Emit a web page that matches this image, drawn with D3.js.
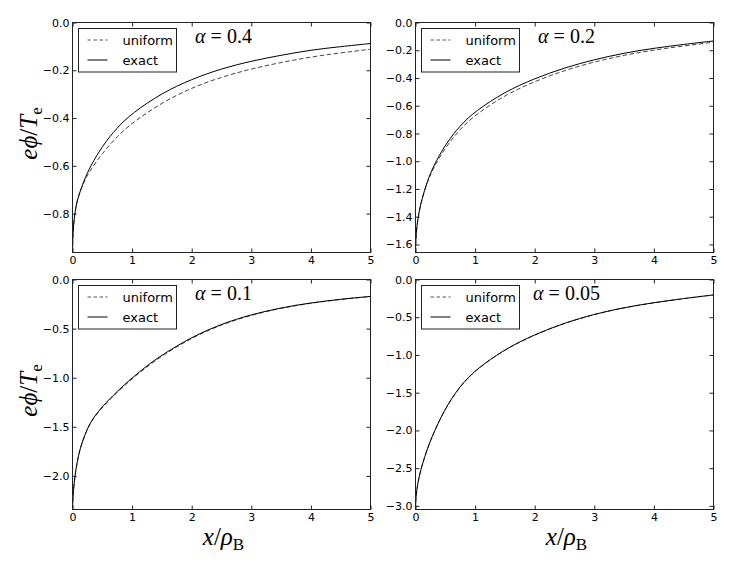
<!DOCTYPE html>
<html><head><meta charset="utf-8">
<script src="https://cdn.jsdelivr.net/npm/d3@7"></script>
<style>body{margin:0;background:#fff} svg{display:block}</style>
</head><body><svg id="c" width="747" height="569"></svg>
<script>
// ---------- data ----------
const alphas = ["0.4", "0.2", "0.1", "0.05"];
const xTicks = [0, 1, 2, 3, 4, 5];
const yTicks04 = [0, -0.2, -0.4, -0.6, -0.8];
const yTicks02 = [0, -0.2, -0.4, -0.6, -0.8, -1.0, -1.2, -1.4, -1.6];
const yTicks01 = [0, -0.5, -1.0, -1.5, -2.0];
const yTicks005 = [0, -0.5, -1.0, -1.5, -2.0, -2.5, -3.0];

// alpha = 0.4
const x04 = [0, 0.005, 0.02, 0.05, 0.1, 0.2, 0.3, 0.5, 0.75, 1, 1.5, 2, 2.5, 3, 3.5, 4, 4.5, 5];
const y04Exact = [-0.963, -0.896, -0.840, -0.777, -0.725, -0.657, -0.602, -0.517, -0.439, -0.380, -0.295, -0.237, -0.193, -0.161, -0.137, -0.115, -0.101, -0.088];
const y04Unif  = [-0.963, -0.896, -0.840, -0.777, -0.725, -0.662, -0.617, -0.548, -0.476, -0.420, -0.335, -0.273, -0.228, -0.194, -0.167, -0.144, -0.127, -0.112];

// alpha = 0.2
const x02 = [0, 0.005, 0.02, 0.05, 0.1, 0.2, 0.3, 0.5, 0.75, 1, 1.5, 2, 2.5, 3, 3.5, 4, 4.5, 5];
const y02Exact = [-1.658, -1.565, -1.480, -1.387, -1.282, -1.141, -1.036, -0.879, -0.741, -0.640, -0.499, -0.403, -0.326, -0.267, -0.220, -0.185, -0.158, -0.133];
const y02Unif  = [-1.658, -1.565, -1.480, -1.387, -1.282, -1.147, -1.048, -0.901, -0.767, -0.666, -0.523, -0.424, -0.345, -0.283, -0.235, -0.198, -0.169, -0.142];

// alpha = 0.1
const x01 = [0, 0.005, 0.02, 0.05, 0.1, 0.15, 0.25, 0.35, 0.5, 0.75, 1, 1.25, 1.5, 2, 2.5, 3, 3.5, 4, 4.5, 5];
const y01Exact = [-2.342, -2.250, -2.114, -1.956, -1.790, -1.676, -1.512, -1.408, -1.292, -1.138, -1.0, -0.878, -0.768, -0.585, -0.452, -0.356, -0.287, -0.237, -0.200, -0.172];
const y01Unif  = [-2.342, -2.250, -2.114, -1.956, -1.790, -1.678, -1.517, -1.414, -1.300, -1.147, -1.010, -0.888, -0.777, -0.593, -0.458, -0.361, -0.291, -0.240, -0.202, -0.174];

// alpha = 0.05
const x005 = [0, 0.005, 0.02, 0.05, 0.1, 0.2, 0.3, 0.5, 0.75, 1, 1.5, 2, 2.5, 3, 3.5, 4, 4.5, 5];
const y005Exact = [-3.048, -2.912, -2.791, -2.653, -2.483, -2.238, -2.037, -1.701, -1.408, -1.200, -0.921, -0.728, -0.575, -0.458, -0.371, -0.306, -0.252, -0.204];
const y005Unif  = [-3.048, -2.912, -2.791, -2.653, -2.484, -2.240, -2.040, -1.705, -1.412, -1.204, -0.925, -0.731, -0.578, -0.460, -0.373, -0.307, -0.253, -0.205];

const legendLabels = ["uniform", "exact"];

// ---------- layout ----------
const W = 298, H = 230;
const panels = [
  {alpha: alphas[0], left: 72.5,  top: 22.5,  xs: x04,  ye: y04Exact,  yu: y04Unif,  yTicks: yTicks04,  ylab: true,  xlab: false},
  {alpha: alphas[1], left: 415.5, top: 22.5,  xs: x02,  ye: y02Exact,  yu: y02Unif,  yTicks: yTicks02,  ylab: false, xlab: false},
  {alpha: alphas[2], left: 72.5,  top: 279.5, xs: x01,  ye: y01Exact,  yu: y01Unif,  yTicks: yTicks01,  ylab: true,  xlab: true},
  {alpha: alphas[3], left: 415.5, top: 279.5, xs: x005, ye: y005Exact, yu: y005Unif, yTicks: yTicks005, ylab: false, xlab: true}
];

const svg = d3.select("#c");
const tickFont = "DejaVu Sans";
const axisCol = "#222";

panels.forEach(p => {
  const g = svg.append("g").attr("transform", `translate(${p.left},${p.top})`);
  const x = d3.scaleLinear().domain([0, 5]).range([0, W]);
  const ymin = d3.min(p.ye.concat(p.yu));
  const y = d3.scaleLinear().domain([ymin, 0]).range([H, 0]);

  const fmtY = d3.format(".1f");
  const styleAxis = sel => {
    sel.select(".domain").remove();
    sel.selectAll(".tick line").attr("stroke", axisCol);
    sel.selectAll(".tick text").attr("font-family", tickFont).attr("font-size", 11).attr("fill", "#000");
  };
  g.append("g").attr("transform", `translate(0,${H})`)
    .call(d3.axisBottom(x).tickValues(xTicks).tickSize(-4).tickPadding(4).tickFormat(d3.format("d")))
    .call(styleAxis);
  g.append("g")
    .call(d3.axisTop(x).tickValues(xTicks).tickSize(-4).tickFormat(""))
    .call(styleAxis);
  g.append("g")
    .call(d3.axisLeft(y).tickValues(p.yTicks).tickSize(-4).tickPadding(3).tickFormat(v => fmtY(v === 0 ? 0 : v)))
    .call(styleAxis);
  g.append("g").attr("transform", `translate(${W},0)`)
    .call(d3.axisRight(y).tickValues(p.yTicks).tickSize(-4).tickFormat(""))
    .call(styleAxis);

  const line = d3.line().x(d => x(d[0])).y(d => y(d[1])).curve(d3.curveBasis);
  const uni = p.xs.map((v, i) => [v, p.yu[i]]);
  const ex = p.xs.map((v, i) => [v, p.ye[i]]);
  g.append("path").attr("d", line(uni)).attr("fill", "none").attr("stroke", "#444")
    .attr("stroke-width", 1).attr("stroke-dasharray", "4.5,2.5");
  g.append("path").attr("d", line(ex)).attr("fill", "none").attr("stroke", "#000").attr("stroke-width", 1);

  g.append("rect").attr("x", 0).attr("y", 0).attr("width", W).attr("height", H)
    .attr("fill", "none").attr("stroke", axisCol).attr("stroke-width", 1);

  // legend
  const lg = g.append("g").attr("transform", "translate(6,6)");
  lg.append("rect").attr("width", 98).attr("height", 43.5).attr("fill", "#fff")
    .attr("stroke", axisCol).attr("stroke-width", 1);
  legendLabels.forEach((lab, i) => {
    const ry = 11.5 + i * 20;
    lg.append("line").attr("x1", 9).attr("x2", 29).attr("y1", ry).attr("y2", ry)
      .attr("stroke", i === 0 ? "#555" : "#000").attr("stroke-width", 1)
      .attr("stroke-dasharray", i === 0 ? "3.5,2.5" : null);
    lg.append("text").attr("x", 44).attr("y", ry + 4.5).text(lab)
      .attr("font-family", tickFont).attr("font-size", 13).attr("fill", "#000");
  });

  // alpha annotation
  const at = g.append("text").attr("x", 151).attr("y", 20.5).attr("text-anchor", "middle")
    .attr("font-family", "Liberation Serif").attr("font-size", 20).attr("fill", "#000");
  at.append("tspan").attr("font-style", "italic").text("α");
  at.append("tspan").text(" = " + p.alpha);

  if (p.ylab) {
    const yl = g.append("text").attr("transform", `translate(-36,${H / 2 - 4}) rotate(-90)`)
      .attr("text-anchor", "middle").attr("font-family", "Liberation Serif").attr("font-size", 25).attr("fill", "#000");
    yl.append("tspan").attr("font-style", "italic").text("eϕ");
    yl.append("tspan").text("/");
    yl.append("tspan").attr("font-style", "italic").text("T");
    yl.append("tspan").attr("font-size", 17).attr("dy", 5).text("e");
  }
  if (p.xlab) {
    const xl = g.append("text").attr("x", W / 2 + 2).attr("y", H + 35)
      .attr("text-anchor", "middle").attr("font-family", "Liberation Serif").attr("font-size", 25).attr("fill", "#000");
    xl.append("tspan").attr("font-style", "italic").text("x");
    xl.append("tspan").text("/");
    xl.append("tspan").attr("font-style", "italic").text("ρ");
    xl.append("tspan").attr("font-size", 17).attr("dy", 5).text("B");
  }
});
</script></body></html>
